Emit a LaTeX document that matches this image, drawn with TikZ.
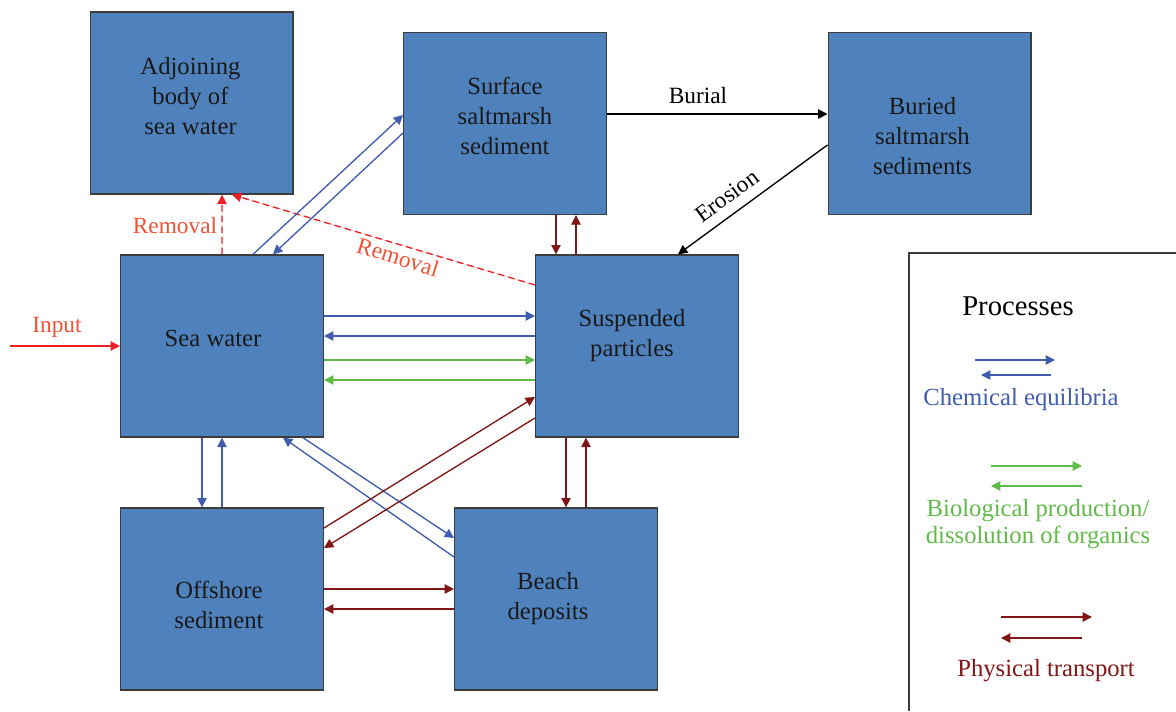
\documentclass[tikz,border=0pt]{standalone}
\usepackage{fontspec}
\setmainfont{Liberation Serif}
\usetikzlibrary{arrows.meta}
\definecolor{boxblue}{RGB}{79,129,189}
\definecolor{boxedge}{RGB}{60,60,60}
\definecolor{chemblue}{RGB}{64,92,174}
\definecolor{biogreen}{RGB}{96,186,72}
\definecolor{physred}{RGB}{128,22,22}
\definecolor{lossred}{RGB}{238,32,36}
\definecolor{labelred}{RGB}{240,82,52}
\tikzset{
  box/.style={draw=boxedge, line width=1pt, fill=boxblue, minimum width=152pt, minimum height=136.5pt, inner sep=0pt},
  boxtext/.style={align=center, text=black!90, inner sep=0pt, font=\fontsize{18.5}{22.5}\selectfont},
  flow/.style={line width=1pt, -{Triangle[length=7pt,width=7pt]}},
  chem/.style={flow, draw=chemblue, fill=chemblue},
  bio/.style={flow, draw=biogreen, fill=biogreen},
  phys/.style={flow, draw=physred, fill=physred},
  loss/.style={flow, draw=lossred, fill=lossred, dashed, dash pattern=on 5pt off 3pt},
  lbl/.style={font=\fontsize{17.5}{21}\selectfont, inner sep=1pt}
}
\begin{document}
\begin{tikzpicture}[x=0.75pt,y=0.75pt,yscale=-1,xscale=1]
\useasboundingbox (0,0) rectangle (1176,711);
% compartments (yshift runs downwards here because of yscale=-1)
\node[box] (adjoin) at (191.5,103) {};
\node[box] (surface) at (505,123.5) {};
\node[box] (buried) at (929.5,123.5) {};
\node[box] (seawater) at (222,346) {};
\node[box] (suspended) at (637,346) {};
\node[box] (offshore) at (222,599) {};
\node[box] (beach) at (556,599) {};
\node[boxtext] (adjointext) at ([shift={(-1,-7)}]adjoin) {Adjoining\\body of\\sea water};
\node[boxtext] (surfacetext) at ([shift={(0,-8)}]surface) {Surface\\saltmarsh\\sediment};
\node[boxtext] (buriedtext) at ([shift={(-7,13)}]buried) {Buried\\saltmarsh\\sediments};
\node[boxtext] (seawatertext) at ([shift={(-9,-8)}]seawater) {Sea water};
\node[boxtext] (suspendedtext) at ([shift={(-5,-10)}]suspended) {Suspended\\particles};
\node[boxtext] (offshoretext) at ([shift={(-3,6)}]offshore) {Offshore\\sediment};
\node[boxtext] (beachtext) at ([shift={(-8,0)}]beach) {Beach\\deposits};
\coordinate (inlet) at (10,346);

% removal and input
\draw[loss] (seawater.north) -- ([xshift=22.9pt]adjoin.south);
\draw[loss] ([yshift=-45.75pt]suspended.west) -- ([xshift=30.4pt]adjoin.south);
\node[lbl, text=labelred] (removal1) at (175,226) {Removal};
\node[lbl, text=labelred, rotate=-17] (removal2) at (398,257) {Removal};
\draw[flow, draw=lossred, fill=lossred] (inlet) -- (seawater.west);
\node[lbl, text=labelred] (input) at (57,327) {Input};

% saltmarsh
\draw[flow, draw=black, fill=black] ([yshift=-7.1pt]surface.east) -- ([yshift=-7.1pt]buried.west);
\node[lbl] (burial) at (698,96) {Burial};
\draw[flow, draw=black, fill=black] ([yshift=16.1pt]buried.west) -- ([xshift=30.75pt]suspended.north);
\node[lbl, rotate=36] (erosion) at (727,196) {Erosion};
\draw[phys] ([xshift=38.25pt]surface.south) -- ([xshift=-60.75pt]suspended.north);
\draw[phys] ([xshift=-45.75pt]suspended.north) -- ([xshift=53.25pt]surface.south);
\draw[chem] ([xshift=23.25pt]seawater.north) -- ([yshift=-6.4pt]surface.west);
\draw[chem] ([yshift=7.1pt]surface.west) -- ([xshift=38.25pt]seawater.north);

% sea water and particles
\draw[chem] ([yshift=-22.5pt]seawater.east) -- ([yshift=-22.5pt]suspended.west);
\draw[chem] ([yshift=-7.5pt]suspended.west) -- ([yshift=-7.5pt]seawater.east);
\draw[bio] ([yshift=10.5pt]seawater.east) -- ([yshift=10.5pt]suspended.west);
\draw[bio] ([yshift=25.5pt]suspended.west) -- ([yshift=25.5pt]seawater.east);

% sediments
\draw[chem] ([xshift=-15pt]seawater.south) -- ([xshift=-15pt]offshore.north);
\draw[chem] (offshore.north) -- (seawater.south);
\draw[chem] ([xshift=60.75pt]seawater.south) -- ([yshift=-45.75pt]beach.west);
\draw[chem] ([yshift=-31.5pt]beach.west) -- ([xshift=45.75pt]seawater.south);
\draw[phys] ([yshift=-53.25pt]offshore.east) -- ([yshift=38.25pt]suspended.west);
\draw[phys] ([yshift=54pt]suspended.west) -- ([yshift=-38.25pt]offshore.east);
\draw[phys] ([xshift=-53.25pt]suspended.south) -- ([xshift=7.5pt]beach.north);
\draw[phys] ([xshift=22.5pt]beach.north) -- ([xshift=-38.25pt]suspended.south);
\draw[phys] ([yshift=-7.5pt]offshore.east) -- ([yshift=-7.5pt]beach.west);
\draw[phys] ([yshift=7.5pt]beach.west) -- ([yshift=7.5pt]offshore.east);

% key
\draw[boxedge, line width=1pt] (1176,253) -| (909,711);
\node[font=\fontsize{21.5}{26}\selectfont] (keytitle) at (1018,306) {Processes};
\draw[chem] (975,360) -- (1055,360);
\draw[chem] (1051,375) -- (981,375);
\node[lbl, text=chemblue, font=\fontsize{18.5}{22.5}\selectfont] (keychem) at (1021,400) {Chemical equilibria};
\draw[bio] (991,466) -- (1082,466);
\draw[bio] (1082,486) -- (991,486);
\node[lbl, text=biogreen, align=center, font=\fontsize{18.5}{20.25}\selectfont] (keybio) at (1038,524) {Biological production/\\dissolution of organics};
\draw[phys] (1001,617) -- (1092,617);
\draw[phys] (1082,638) -- (1001,638);
\node[lbl, text=physred, font=\fontsize{18.5}{22.5}\selectfont] (keyphys) at (1046,671) {Physical transport};
\end{tikzpicture}
\end{document}
